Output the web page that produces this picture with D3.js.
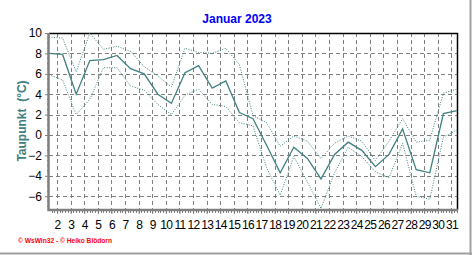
<!DOCTYPE html>
<html>
<head>
<meta charset="utf-8">
<script src="https://cdn.jsdelivr.net/npm/d3@7"></script>
<style>
  html, body { margin: 0; padding: 0; background: #fff; }
  svg { display: block; font-family: "Liberation Sans", Arial, sans-serif; }
</style>
</head>
<body>
<svg id="chart" width="472" height="255"></svg>
<script>
// Taupunkt Januar 2023, daily values
const days = d3.range(1, 32);
const dayLabels = d3.range(2, 32);
const yTicks = [-6, -4, -2, 0, 2, 4, 6, 8, 10];
const avgDew = [8.0, 7.9, 4.0, 7.3, 7.4, 7.8, 6.5, 6.0, 4.0, 3.1, 6.1, 6.8, 4.6, 5.3, 2.2, 1.6,
  -1.0, -3.7, -1.2, -2.3, -4.3, -1.9, -0.7, -1.5, -3.1, -1.9, 0.6, -3.4, -3.7, 2.1, 2.4];
const maxDew = [9.6, 9.5, 6.2, 10.0, 8.4, 8.7, 8.2, 6.7, 5.8, 4.7, 8.5, 8.1, 8.0, 8.5, 6.9, 1.9,
  1.2, -1.1, -0.1, -0.6, -2.3, -0.8, -0.1, -0.6, -2.5, -0.6, 1.6, -0.7, -0.5, 4.1, 4.5];
const minDew = [5.9, 5.4, 2.0, 3.5, 6.6, 6.6, 4.8, 4.4, 3.0, 2.0, 3.9, 4.5, 3.0, 2.8, 1.2, 0.9,
  -3.2, -5.9, -2.1, -4.6, -7.2, -3.7, -1.2, -2.1, -3.6, -4.2, -0.8, -6.0, -6.3, -0.2, 0.5];

const teal = '#408080';
const svg = d3.select('#chart');
const plotL = 49, plotR = 457, plotT = 33, plotB = 210;

const x = d3.scaleLinear().domain([1, 31]).range([plotL, plotR]);
const y = d3.scaleLinear().domain([-7.35, 10]).range([plotB, plotT]);
// day grid sits a bit before each data point
const dayPos = (d) => x(d - 0.41);

// window frame
svg.append('line').attr('x1', 470.5).attr('x2', 470.5).attr('y1', 0).attr('y2', 255)
  .attr('stroke', '#a0a0a0').attr('stroke-width', 2);
svg.append('line').attr('x1', 0).attr('x2', 472).attr('y1', 253.5).attr('y2', 253.5)
  .attr('stroke', '#a0a0a0').attr('stroke-width', 2);

// title
svg.append('text').attr('x', 237).attr('y', 23).attr('text-anchor', 'middle')
  .attr('fill', '#0000ff').attr('font-weight', 'bold').attr('font-size', 12)
  .text('Januar 2023');

// grid
const grid = svg.append('g').attr('stroke', '#808080').attr('stroke-dasharray', '4,3');
grid.selectAll('.hg').data(yTicks.filter(v => v < 10)).join('line')
  .attr('x1', plotL).attr('x2', plotR)
  .attr('y1', d => Math.round(y(d)) + 0.5).attr('y2', d => Math.round(y(d)) + 0.5);
grid.selectAll('.vg').data(dayLabels).join('line')
  .attr('x1', d => Math.round(dayPos(d)) + 0.5).attr('x2', d => Math.round(dayPos(d)) + 0.5)
  .attr('y1', plotT).attr('y2', plotB);

// top / right border
svg.append('path')
  .attr('d', `M${plotL},${plotT + 0.5}H${plotR + 0.5}V${plotB}`)
  .attr('fill', 'none').attr('stroke', '#000').attr('stroke-width', 1.5);

// series
const line = (vals) => d3.line().x((d, i) => x(days[i])).y(d => y(d))(vals);
svg.append('path').attr('d', line(maxDew)).attr('fill', 'none')
  .attr('stroke', teal).attr('stroke-width', 1).attr('stroke-dasharray', '1,1.5');
svg.append('path').attr('d', line(minDew)).attr('fill', 'none')
  .attr('stroke', teal).attr('stroke-width', 1).attr('stroke-dasharray', '1,1.5');
svg.append('path').attr('d', line(avgDew)).attr('fill', 'none')
  .attr('stroke', teal).attr('stroke-width', 1.3);

// y axis
const yAxis = svg.append('g').attr('transform', `translate(${plotL},0)`)
  .call(d3.axisLeft(y).tickValues(yTicks).tickSize(4).tickPadding(3).tickFormat(d3.format('d')));
yAxis.select('.domain').remove();
yAxis.selectAll('line').attr('stroke', '#808080');
yAxis.selectAll('text').attr('font-size', 12).attr('fill', '#000')
  .attr('font-family', '"Liberation Sans", Arial, sans-serif');
svg.append('g').selectAll('line').data(d3.range(-7, 10, 0.5).filter(v => v % 2 !== 0)).join('line')
  .attr('x1', plotL - 2).attr('x2', plotL)
  .attr('y1', d => y(d)).attr('y2', d => y(d)).attr('stroke', '#808080');

// x axis
const xAxis = svg.append('g').attr('transform', `translate(0,${plotB})`)
  .call(d3.axisBottom(x)
    .tickValues(dayLabels.map(d => d - 0.41)).tickSize(4).tickPadding(6)
    .tickFormat((d, i) => dayLabels[i]));
xAxis.select('.domain').remove();
xAxis.selectAll('line').attr('stroke', '#808080');
xAxis.selectAll('text').attr('font-size', 12).attr('fill', '#000')
  .attr('letter-spacing', -0.7)
  .attr('font-family', '"Liberation Sans", Arial, sans-serif');
svg.append('g').selectAll('line')
  .data(d3.range(1, 31.6, 0.2).filter(d => dayPos(d) >= plotL && dayPos(d) <= plotR)).join('line')
  .attr('x1', d => Math.round(dayPos(d)) + 0.5).attr('x2', d => Math.round(dayPos(d)) + 0.5)
  .attr('y1', plotB).attr('y2', plotB + 3).attr('stroke', '#808080');

// gray axis lines
svg.append('path').attr('d', `M${plotL - 0.5},${plotT}V${plotB}H${plotR + 1}`)
  .attr('fill', 'none').attr('stroke', '#808080').attr('stroke-width', 2.5);

// y title
svg.append('text').attr('transform', 'translate(26,121) rotate(-90)')
  .attr('text-anchor', 'middle').attr('fill', teal).attr('font-weight', 'bold')
  .attr('font-size', 12).attr('xml:space', 'preserve').text('Taupunkt  (°C)');

// footer
svg.append('text').attr('x', 18).attr('y', 243).attr('fill', '#ff0000')
  .attr('font-size', 7).attr('font-weight', 'bold')
  .attr('textLength', 94).attr('lengthAdjust', 'spacingAndGlyphs')
  .text('© WsWin32  -  © Heiko Blödorn');
</script>
</body>
</html>
